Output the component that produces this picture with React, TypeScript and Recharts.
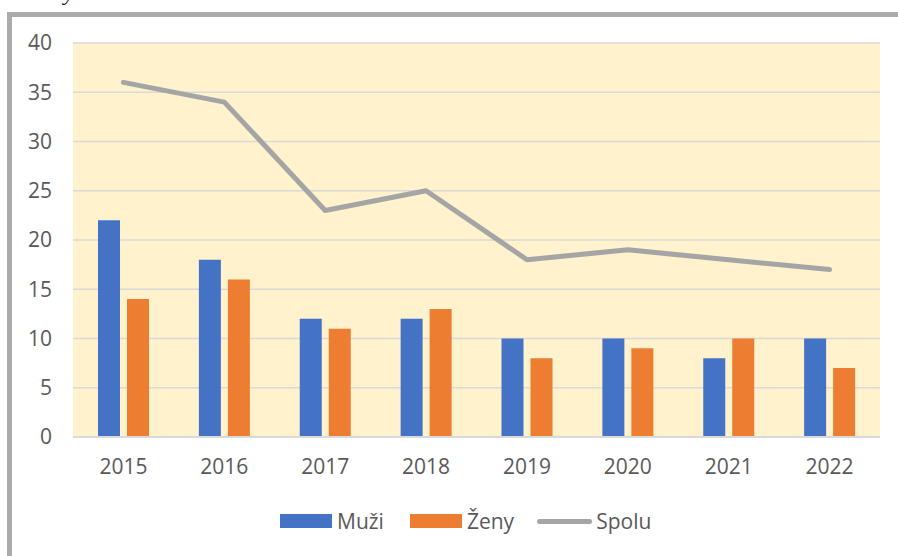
import { ComposedChart, Bar, Line, XAxis, YAxis, CartesianGrid, Legend } from "recharts";

const years = ["2015", "2016", "2017", "2018", "2019", "2020", "2021", "2022"];
const muzi = [22, 18, 12, 12, 10, 10, 8, 10];
const zeny = [14, 16, 11, 13, 8, 9, 10, 7];
const spolu = [36, 34, 23, 25, 18, 19, 18, 17];
const yTicks = [0, 5, 10, 15, 20, 25, 30, 35, 40];

const data = years.map((y, i) => ({ year: y, Muži: muzi[i], Ženy: zeny[i], Spolu: spolu[i] }));

const FONT = "'Open Sans', 'Noto Sans', sans-serif";
const tickStyle = { fontSize: 21, fill: "#595959", fontFamily: FONT };

function LegendBox() {
  const items = [
    { name: "Muži", color: "#4472C4", kind: "bar", gap: 26 },
    { name: "Ženy", color: "#ED7D31", kind: "bar", gap: 23 },
    { name: "Spolu", color: "#A5A5A5", kind: "line", gap: 0 },
  ];
  return (
    <div style={{ height: 30, display: "flex", alignItems: "center", paddingLeft: 280, fontFamily: FONT, fontSize: 21, color: "#595959" }}>
      {items.map((it) => (
        <div key={it.name} style={{ display: "flex", alignItems: "center", marginRight: it.gap }}>
          {it.kind === "bar" ? (
            <div style={{ width: 52, height: 14, background: it.color, marginRight: 5 }} />
          ) : (
            <div style={{ width: 55, height: 5, borderRadius: 3, background: it.color, marginRight: 4 }} />
          )}
          <span>{it.name}</span>
        </div>
      ))}
    </div>
  );
}

export default function App() {
  return (
    <div style={{ position: "absolute", left: 0, top: 0, width: 898, height: 556, background: "#fff", overflow: "hidden" }}>
      <div style={{ position: "absolute", left: 64, top: -18, fontFamily: "'Liberation Serif', serif", fontStyle: "italic", fontSize: 22, lineHeight: "22px" }}>y</div>
      <div style={{ position: "absolute", left: 7, top: 12, width: 900, height: 560, borderTop: "5px solid #ABABAB", borderLeft: "5px solid #ABABAB" }} />
      <div style={{ position: "absolute", left: 0, top: 0 }}>
        <ComposedChart width={898} height={556} data={data} margin={{ top: 43, right: 18, left: 0, bottom: 20 }} barGap={7}>
          <CartesianGrid vertical={false} stroke="#D9D9D9" strokeWidth={1.5} fill="#FFF2CC" />
          <XAxis dataKey="year" height={69} tickLine={false} tickSize={0} tickMargin={22} axisLine={{ stroke: "#D9D9D9", strokeWidth: 2 }} tick={tickStyle} />
          <YAxis width={73} domain={[0, 40]} ticks={yTicks} tickLine={false} tickSize={0} tickMargin={21} axisLine={false} tick={tickStyle} />
          <Legend verticalAlign="bottom" content={() => <LegendBox />} wrapperStyle={{ left: 0, width: 898 }} />
          <Bar dataKey="Muži" fill="#4472C4" barSize={22} isAnimationActive={false} />
          <Bar dataKey="Ženy" fill="#ED7D31" barSize={22} isAnimationActive={false} />
          <Line dataKey="Spolu" type="linear" stroke="#A5A5A5" strokeWidth={5} strokeLinecap="round" strokeLinejoin="round" dot={false} activeDot={false} isAnimationActive={false} />
        </ComposedChart>
      </div>
    </div>
  );
}
